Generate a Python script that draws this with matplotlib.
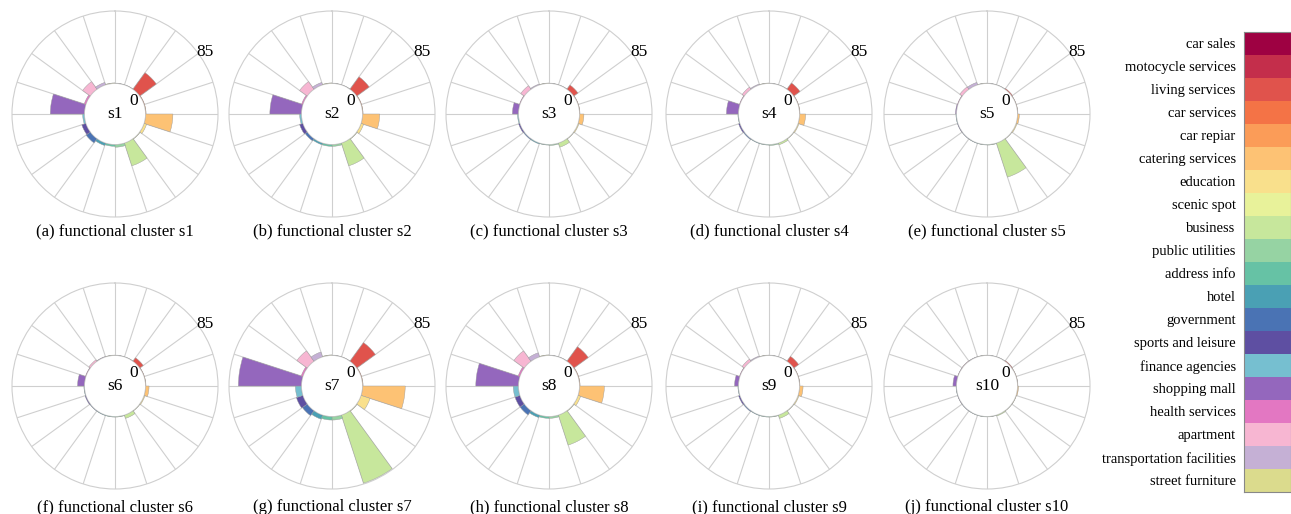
import numpy as np
import matplotlib.pyplot as plt

plt.rcParams['font.family'] = ['Liberation Serif', 'DejaVu Serif']

categories = ['car sales', 'motocycle services', 'living services', 'car services',
              'car repiar', 'catering services', 'education', 'scenic spot',
              'business', 'public utilities', 'address info', 'hotel',
              'government', 'sports and leisure', 'finance agencies',
              'shopping mall', 'health services', 'apartment',
              'transportation facilities', 'street furniture']

# POI counts per category for each functional cluster (same order as categories)
s1 = [0, 0, 24, 0.5, 0.5, 32, 3, 0.5, 28, 3, 2, 3, 6, 5, 2, 40, 2, 11, 3, 0.5]
s2 = [0, 0, 18, 0.5, 0.5, 20, 3, 0.5, 28, 2, 2, 2, 3, 4, 2, 37, 1.5, 11, 3, 0.5]
s3 = [0, 0, 6, 0.3, 0.3, 5, 1, 0.3, 5, 1, 0.5, 1, 1, 1.5, 1, 7, 0.5, 5, 1, 0.3]
s4 = [0, 0, 9, 0.3, 0.3, 7, 1, 0.3, 2, 1, 0.5, 0.5, 1, 1.5, 0.5, 14, 0.5, 3, 1, 0.3]
s5 = [0, 0, 1, 0.2, 0.2, 2, 1, 0.2, 42, 0.5, 0.3, 0.3, 0.3, 0.5, 0.5, 1, 0.5, 3.5, 3, 0.2]
s6 = [0, 0, 5, 0.3, 0.3, 4, 1, 0.3, 4, 0.5, 0.5, 0.5, 0.5, 1, 0.5, 8, 0.5, 2, 0.5, 0.2]
s7 = [0, 0, 27, 0.5, 0.5, 50, 11, 0.5, 84, 4, 4, 5, 7, 8, 7, 74, 2, 15, 6, 0.5]
s8 = [0, 0, 21, 0.5, 0.5, 29, 3, 0.5, 37, 2, 2, 3, 6, 6, 6, 50, 2, 15, 5, 0.5]
s9 = [0, 0, 7, 0.3, 0.3, 4, 1, 0.3, 4, 0.5, 0.5, 0.5, 1, 1.5, 0.5, 4.5, 0.5, 3, 1, 0.2]
s10 = [0, 0, 0.8, 0.2, 0.2, 1, 0.3, 0.2, 1, 0.2, 0.2, 0.2, 0.3, 0.3, 0.3, 4, 0.2, 0.5, 0.3, 0.1]

clusters = [s1, s2, s3, s4, s5, s6, s7, s8, s9, s10]
names = ['s%d' % (i + 1) for i in range(10)]
letters = 'abcdefghij'
rmax = 85

colors = ['#9e0142', '#c42e4b', '#e0534c', '#f47346', '#fb9c58', '#fdc274',
          '#f9e08c', '#e8f29a', '#c7e79c', '#96d3a3', '#66c2a5', '#4aa0b4',
          '#4a73b4', '#5e4fa2', '#76bfd0', '#9467bd', '#e377c2', '#f7b6d2',
          '#c5b0d5', '#dbdb8d']

W, H = 1291, 514
fig = plt.figure(figsize=(W / 100, H / 100), dpi=100)

n = len(categories)
step = 2 * np.pi / n
theta = np.arange(n) * step + step / 2

xs = [115, 332, 549, 769, 987]
ys = [114, 386]
R = 103  # outer radius in pixels
grid_c = '#cfcfcf'

for k, vals in enumerate(clusters):
    cx, cy = xs[k % 5], ys[k // 5]
    ax = fig.add_axes([(cx - R) / W, 1 - (cy + R) / H, 2 * R / W, 2 * R / H],
                      projection='polar')
    ax.set_theta_zero_location('N')
    ax.set_theta_direction(-1)
    ax.bar(theta, vals, width=step, bottom=0, color=colors,
           edgecolor='#9a9a9a', linewidth=0.3, zorder=3)
    ax.set_ylim(0, rmax)
    ax.set_rorigin(-36)
    ax.set_thetagrids(np.arange(0, 360, 18), labels=[])
    ax.set_yticks([])
    ax.xaxis.grid(True, color=grid_c, linewidth=0.8)
    ax.tick_params(axis='x', length=0, pad=0)
    for sp in ax.spines.values():
        sp.set_color(grid_c)
        sp.set_linewidth(0.8)
    ax.text(0.5, 0.5, names[k], transform=ax.transAxes, ha='center',
            va='center', fontsize=12.5)
    ax.text(0.593, 0.562, '0', transform=ax.transAxes, ha='center',
            va='center', fontsize=12.5)
    ax.text(0.937, 0.799, str(rmax), transform=ax.transAxes, ha='center',
            va='center', fontsize=12.5)
    cap_y = 231 if k < 5 else 507
    fig.text(cx / W, 1 - cap_y / H,
             '(%s) functional cluster %s' % (letters[k], names[k]),
             ha='center', va='center', fontsize=12)

# category colour key on the right
lx0, lx1, ly0, ly1 = 1244, 1291, 32, 492
lax = fig.add_axes([lx0 / W, 1 - ly1 / H, (lx1 - lx0) / W, (ly1 - ly0) / H])
rows = np.arange(n)
lax.barh(rows, np.ones(n), height=1.0, color=colors, edgecolor='none')
lax.set_xlim(0, 1)
lax.set_ylim(n - 0.5, -0.5)
lax.set_xticks([])
lax.set_yticks(rows)
lax.set_yticklabels(categories, fontsize=10.5)
lax.tick_params(axis='y', length=0, pad=6)
for sp in lax.spines.values():
    sp.set_color('#888888')
    sp.set_linewidth(0.8)

fig.savefig('out.png', dpi=100, facecolor='white')
